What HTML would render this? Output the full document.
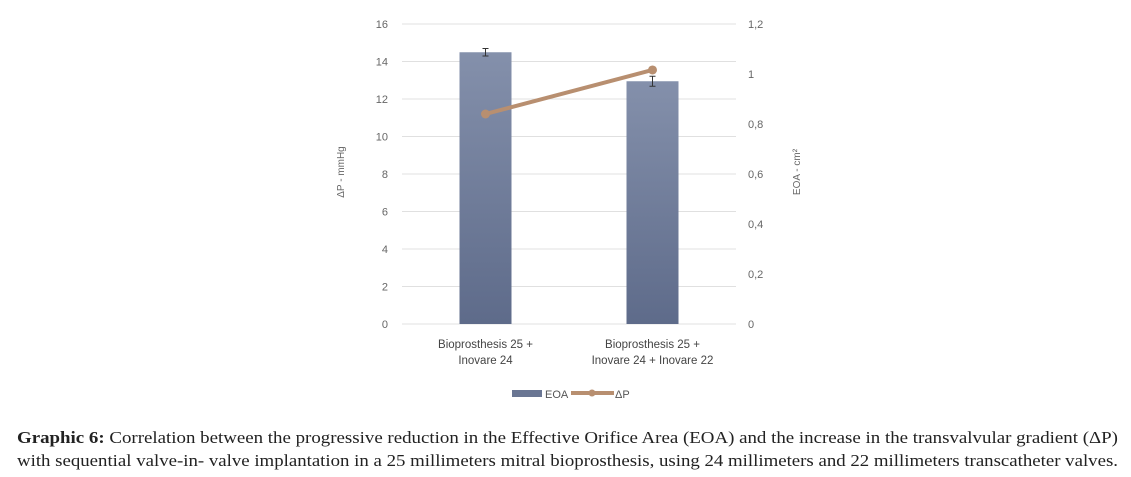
<!DOCTYPE html>
<html><head><meta charset="utf-8"><style>
html,body{margin:0;padding:0;background:#fff;}
svg{display:block;font-family:"Liberation Sans",sans-serif;}
</style></head><body>
<svg id="chart" width="1131" height="477" viewBox="0 0 1131 477">
<defs>
<linearGradient id="barg" x1="0" y1="0" x2="0" y2="1">
<stop offset="0" stop-color="#8490ab"/><stop offset="1" stop-color="#5e6b8a"/>
</linearGradient>
</defs>
<g id="grid"></g>
<g id="yleft"></g>
<g id="yright"></g>
<g id="bars"></g>
<g id="line"></g>
<g id="xlabels"></g>
<text transform="translate(344,172) rotate(-90)" text-anchor="middle" font-size="10" fill="#666">ΔP - mmHg</text>
<text transform="translate(800,172) rotate(-90)" text-anchor="middle" font-size="10" fill="#666">EOA - cm²</text>
<g>
<rect x="512" y="390" width="30" height="7" fill="#6a7693"/>
<text x="545" y="398" font-size="11" fill="#555">EOA</text>
<line x1="571" y1="393" x2="614" y2="393" stroke="#b88f70" stroke-width="4"/>
<circle cx="592" cy="393" r="3.5" fill="#b88f70"/>
<text x="615" y="398" font-size="11" fill="#555">ΔP</text>
</g>
<g font-family="'Liberation Serif',serif" font-size="16.5" fill="#222">
<text x="17" y="443" textLength="1101" lengthAdjust="spacingAndGlyphs"><tspan font-weight="bold">Graphic 6:</tspan> Correlation between the progressive reduction in the Effective Orifice Area (EOA) and the increase in the transvalvular gradient (ΔP)</text>
<text x="17" y="466" textLength="1101" lengthAdjust="spacingAndGlyphs">with sequential valve-in- valve implantation in a 25 millimeters mitral bioprosthesis, using 24 millimeters and 22 millimeters transcatheter valves.</text>
</g>
</svg>
<script>
const categories = [["Bioprosthesis 25 +","Inovare 24"],["Bioprosthesis 25 +","Inovare 24 + Inovare 22"]];
const eoaValues = [1.087, 0.971];
const eoaErr = [0.015, 0.02];
const dpValues = [11.2, 13.55];
const leftTicks = [0,2,4,6,8,10,12,14,16];
const rightTicks = ["0","0,2","0,4","0,6","0,8","1","1,2"];
const rightTickVals = [0,0.2,0.4,0.6,0.8,1,1.2];

const NS="http://www.w3.org/2000/svg";
const x0=402,x1=736,yTop=24,yBot=324;
const yL=v=>yBot-(v/16)*(yBot-yTop);
const yR=v=>yBot-(v/1.2)*(yBot-yTop);
const xC=i=>x0+(x1-x0)*(i+0.5)/categories.length;
function mk(tag,attrs,parent){const e=document.createElementNS(NS,tag);for(const k in attrs)e.setAttribute(k,attrs[k]);parent.appendChild(e);return e;}
const grid=document.getElementById('grid'),yl=document.getElementById('yleft'),yr=document.getElementById('yright');
leftTicks.forEach(v=>{
  const l=mk('line',{x1:x0,x2:x1,y1:yL(v),y2:yL(v),stroke:'#e0e0e0','stroke-width':1},grid);
  
  
  const t=mk('text',{x:388,y:yL(v)+4,'text-anchor':'end','font-size':11,fill:'#666'},yl);
  t.textContent=v;
  
  
});
rightTickVals.forEach((v,i)=>{
  const t=mk('text',{x:748,y:yR(v)+4,'font-size':11,fill:'#666'},yr);
  t.textContent=rightTicks[i];
  
  
});
const bars=document.getElementById('bars');
eoaValues.forEach((v,i)=>{
  const cx=xC(i);
  const r=mk('rect',{x:cx-26,y:yR(v),width:52,height:yBot-yR(v),fill:'url(#barg)'},bars);
  
  
  const e1=yR(v+eoaErr[i]),e2=yR(v-eoaErr[i]);
  const eb=mk('path',{d:`M${cx} ${e1}V${e2}M${cx-3} ${e1}H${cx+3}M${cx-3} ${e2}H${cx+3}`,stroke:'#333','stroke-width':1,fill:'none'},bars);
  
  
});
const line=document.getElementById('line');
const pts=dpValues.map((v,i)=>[xC(i),yL(v)]);
const pl=mk('polyline',{points:pts.map(p=>p.join(',')).join(' '),stroke:'#b88f70','stroke-width':4,fill:'none'},line);


pts.forEach(p=>{
  const c=mk('circle',{cx:p[0],cy:p[1],r:4.5,fill:'#b88f70'},line);
  
  
});
const xl=document.getElementById('xlabels');
categories.forEach((lines,i)=>{
  lines.forEach((s,j)=>{
    const t=mk('text',{x:xC(i),y:348+j*16,'text-anchor':'middle','font-size':11.5,fill:'#444'},xl);
    t.textContent=s;
    
    
  });
});
</script>
</body></html>
